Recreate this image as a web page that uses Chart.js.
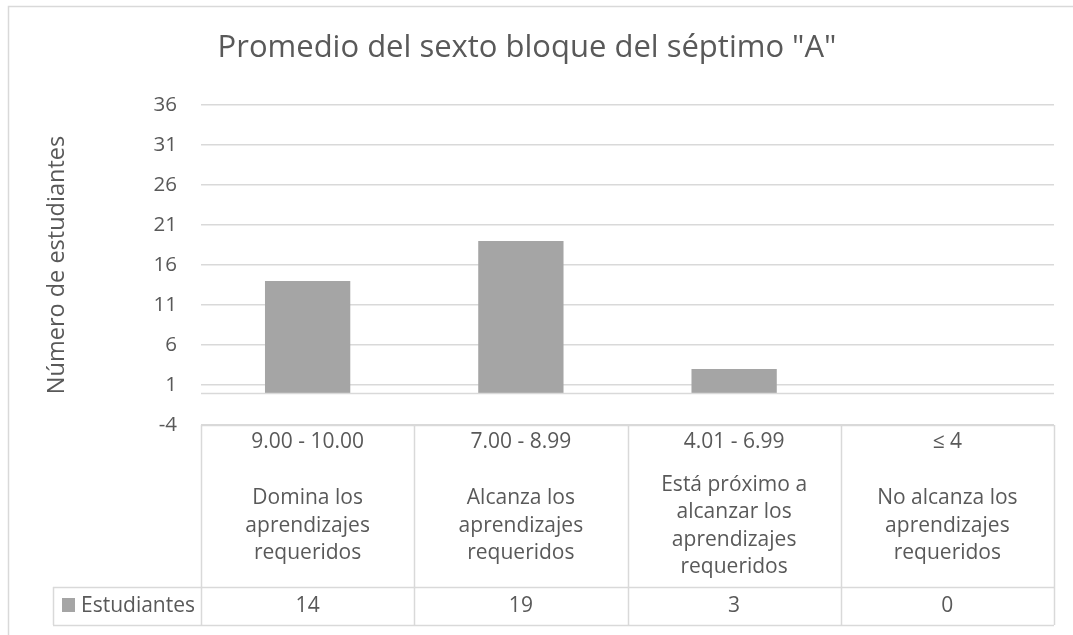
<!DOCTYPE html>
<html lang="es">
<head>
<meta charset="utf-8">
<title>Promedio del sexto bloque del séptimo "A"</title>
<script src="https://cdn.jsdelivr.net/npm/chart.js@4.4.1/dist/chart.umd.min.js"></script>
<style>
  html, body { margin: 0; padding: 0; background: #ffffff; }
  #wrap { width: 1073px; height: 635px; }
</style>
</head>
<body>
<div id="wrap"><canvas id="chart" width="1073" height="635"></canvas></div>
<script>
// Data
const rangeLabels = ['9.00 - 10.00', '7.00 - 8.99', '4.01 - 6.99', '≤ 4'];
const levelLabels = [
  ['Domina los', 'aprendizajes', 'requeridos'],
  ['Alcanza los', 'aprendizajes', 'requeridos'],
  ['Está próximo a', 'alcanzar los', 'aprendizajes', 'requeridos'],
  ['No alcanza los', 'aprendizajes', 'requeridos']
];
const seriesName = 'Estudiantes';
const studentCounts = [14, 19, 3, 0];
const yTickValues = [-4, 1, 6, 11, 16, 21, 26, 31, 36];

const TEXT = '#595959';
const LINE = '#d9d9d9';
const BAR = '#a5a5a5';
const FONT = "'Open Sans', 'Noto Sans', sans-serif";

// White background plus the thin frame Excel draws round the chart
const frame = {
  id: 'frame',
  beforeDraw(chart) {
    const ctx = chart.ctx;
    ctx.save();
    ctx.fillStyle = '#ffffff';
    ctx.fillRect(0, 0, chart.width, chart.height);
    ctx.strokeStyle = LINE;
    ctx.lineWidth = 1.5;
    ctx.beginPath();
    ctx.moveTo(8.5, chart.height);
    ctx.lineTo(8.5, 6.5);
    ctx.lineTo(chart.width, 6.5);
    ctx.stroke();
    ctx.restore();
  }
};

// Horizontal category axis crossing at 0 and the data table under the plot
const dataTable = {
  id: 'dataTable',
  afterDraw(chart) {
    const { ctx, chartArea } = chart;
    const x = chart.scales.x;
    const y = chart.scales.y;
    const n = studentCounts.length;
    const colW = chartArea.width / n;
    const top = chartArea.bottom;
    const rowY = top + 162;
    const bottom = top + 200;
    const legendLeft = 53;

    ctx.save();
    ctx.strokeStyle = LINE;

    // axis line at zero
    ctx.lineWidth = 1.5;
    const zy = Math.round(y.getPixelForValue(0)) + 0.5;
    ctx.beginPath();
    ctx.moveTo(chartArea.left, zy);
    ctx.lineTo(chartArea.right, zy);
    ctx.stroke();

    // table grid
    ctx.beginPath();
    ctx.moveTo(chartArea.left, top + 0.5);
    ctx.lineTo(chartArea.right, top + 0.5);
    ctx.moveTo(legendLeft, rowY + 0.5);
    ctx.lineTo(chartArea.right, rowY + 0.5);
    ctx.moveTo(legendLeft, bottom + 0.5);
    ctx.lineTo(chartArea.right, bottom + 0.5);
    ctx.moveTo(legendLeft + 0.5, rowY);
    ctx.lineTo(legendLeft + 0.5, bottom);
    for (let i = 0; i <= n; i++) {
      const bx = Math.round(chartArea.left + i * colW) + 0.5;
      ctx.moveTo(bx, top);
      ctx.lineTo(bx, bottom);
    }
    ctx.stroke();

    // category texts
    ctx.fillStyle = TEXT;
    ctx.font = '21px ' + FONT;
    ctx.textAlign = 'center';
    ctx.textBaseline = 'middle';
    const lh = 27.5;
    for (let i = 0; i < n; i++) {
      const cx = x.getPixelForValue(i);
      ctx.fillText(rangeLabels[i], cx, top + 17);
      const lines = levelLabels[i];
      const start = top + 101 - (lines.length - 1) * lh / 2;
      lines.forEach((t, k) => ctx.fillText(t, cx, start + k * lh));
      ctx.fillText(String(studentCounts[i]), cx, rowY + 19);
    }

    // legend key in the table
    ctx.fillStyle = BAR;
    ctx.fillRect(62, rowY + 11, 13, 14);
    ctx.fillStyle = TEXT;
    ctx.textAlign = 'left';
    ctx.fillText(seriesName, 81, rowY + 19);
    ctx.restore();
  }
};

new Chart(document.getElementById('chart'), {
  type: 'bar',
  data: {
    labels: rangeLabels,
    datasets: [{
      label: seriesName,
      data: studentCounts,
      backgroundColor: BAR,
      borderWidth: 0,
      categoryPercentage: 1,
      barPercentage: 0.4
    }]
  },
  options: {
    responsive: false,
    animation: false,
    layout: {
      padding: { left: 0, right: 19, top: 0, bottom: 210 }
    },
    plugins: {
      legend: { display: false },
      tooltip: { enabled: false },
      title: {
        display: true,
        text: 'Promedio del sexto bloque del séptimo "A"',
        color: TEXT,
        font: { family: FONT, size: 31, weight: 'normal', lineHeight: 1.2 },
        padding: { top: 29.9, bottom: 37.9 }
      }
    },
    scales: {
      x: {
        display: false
      },
      y: {
        min: -4,
        max: 36,
        afterBuildTicks(scale) {
          scale.ticks = yTickValues.map(v => ({ value: v }));
        },
        afterFit(scale) {
          scale.width = 201;
        },
        border: { display: false },
        grid: { color: LINE, lineWidth: 1.5, drawTicks: false },
        ticks: {
          color: TEXT,
          padding: 24,
          font: { family: FONT, size: 20.5 }
        },
        title: {
          display: true,
          text: 'Número de estudiantes',
          color: TEXT,
          font: { family: FONT, size: 23.5 },
          padding: { top: 43.4, bottom: 0 }
        }
      }
    }
  },
  plugins: [frame, dataTable]
});
</script>
</body>
</html>
